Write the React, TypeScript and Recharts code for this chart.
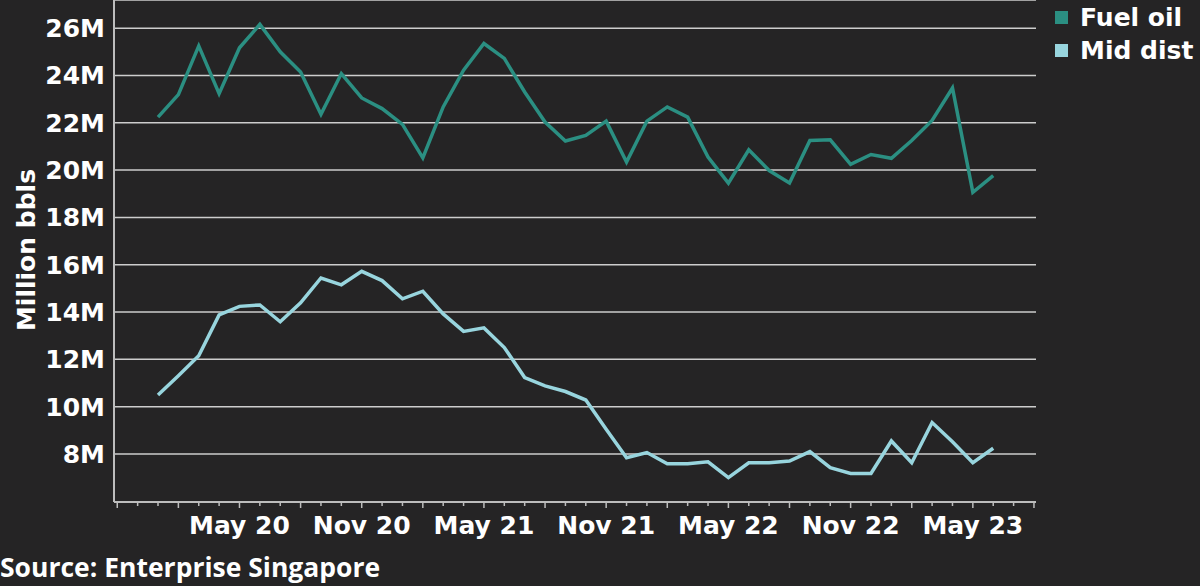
import { CartesianGrid, Line, LineChart, XAxis, YAxis } from "recharts";

const months = [
  "Jan 20", "Feb 20", "Mar 20", "Apr 20", "May 20", "Jun 20", "Jul 20", "Aug 20", "Sep 20", "Oct 20", "Nov 20", "Dec 20",
  "Jan 21", "Feb 21", "Mar 21", "Apr 21", "May 21", "Jun 21", "Jul 21", "Aug 21", "Sep 21", "Oct 21", "Nov 21", "Dec 21",
  "Jan 22", "Feb 22", "Mar 22", "Apr 22", "May 22", "Jun 22", "Jul 22", "Aug 22", "Sep 22", "Oct 22", "Nov 22", "Dec 22",
  "Jan 23", "Feb 23", "Mar 23", "Apr 23", "May 23", "Jun 23",
];

// million barrels
const fuelOil = [
  22.24, 23.19, 25.25, 23.23, 25.17, 26.16, 25.0, 24.15, 22.36, 24.08, 23.05, 22.6,
  21.93, 20.52, 22.67, 24.22, 25.35, 24.72, 23.3, 22.03, 21.23, 21.47, 22.07, 20.34,
  22.07, 22.67, 22.24, 20.55, 19.45, 20.86, 19.98, 19.45, 21.25, 21.28, 20.24, 20.66,
  20.5, 21.25, 22.1, 23.47, 19.06, 19.77,
];
const midDist = [
  10.49, 11.31, 12.15, 13.88, 14.24, 14.3, 13.59, 14.39, 15.44, 15.15, 15.72, 15.33,
  14.56, 14.88, 13.92, 13.18, 13.33, 12.5, 11.23, 10.88, 10.64, 10.28, 9.05, 7.84,
  8.06, 7.59, 7.59, 7.67, 7.0, 7.63, 7.63, 7.7, 8.1, 7.42, 7.18, 7.18,
  8.55, 7.63, 9.33, 8.52, 7.63, 8.24,
];

const xTickLabels = ["May 20", "Nov 20", "May 21", "Nov 21", "May 22", "Nov 22", "May 23"];
const yTicks = [8, 10, 12, 14, 16, 18, 20, 22, 24, 26];

const data = months.map((m, i) => ({ idx: i, month: m, fuel: fuelOil[i], mid: midDist[i] }));

// one tick per month, starting two months before the first point
const monthTicks = Array.from({ length: 46 }, (_, k) => k - 2);

const BG = "#252425";
const AXIS = "#bdbdbd";
const FUEL = "#2b8f82";
const MID = "#98d5de";
const MONT = "'DejaVu Sans', sans-serif";

const MonthTick = (props: any) => {
  const { x, y, payload } = props;
  const i = payload.value;
  const longTick = ((i % 3) + 3) % 3 === 1;
  const label = i >= 0 && i < months.length && xTickLabels.includes(months[i]) ? months[i] : null;
  return (
    <g>
      <line x1={x} x2={x} y1={y} y2={y + (longTick ? 6 : 4)} stroke={AXIS} strokeWidth={1.5} />
      {label && (
        <text x={x} y={y + 32} textAnchor="middle" fill="#ffffff" fontFamily={MONT} fontWeight="bold" fontSize={25}>
          {label}
        </text>
      )}
    </g>
  );
};

const legendItems = [
  { name: "Fuel oil", color: FUEL },
  { name: "Mid dist", color: MID },
];

export default function App() {
  return (
    <div style={{ position: "absolute", left: 0, top: 0, width: 1200, height: 586, background: BG }}>
      <LineChart width={1200} height={586} data={data} margin={{ top: 0, right: 164, left: 0, bottom: 44 }}>
        <CartesianGrid vertical={false} stroke="#cdcdcd" strokeWidth={1.5} />
        <XAxis
          dataKey="idx"
          type="number"
          domain={[-2.16, 43.1]}
          ticks={monthTicks}
          interval={0}
          height={40}
          axisLine={{ stroke: AXIS, strokeWidth: 2 }}
          tickLine={false}
          tickSize={0}
          tickMargin={0}
          tick={<MonthTick />}
        />
        <YAxis
          width={114}
          domain={[5.97, 27.19]}
          ticks={yTicks}
          interval={0}
          allowDataOverflow
          tickFormatter={(v) => `${v}M`}
          axisLine={{ stroke: AXIS, strokeWidth: 2 }}
          tickLine={false}
          tickSize={0}
          tickMargin={9}
          tick={{ fill: "#ffffff", fontFamily: MONT, fontWeight: "bold", fontSize: 25 }}
        />
        <Line type="linear" dataKey="fuel" name="Fuel oil" stroke={FUEL} strokeWidth={3.5} dot={false} isAnimationActive={false} />
        <Line type="linear" dataKey="mid" name="Mid dist" stroke={MID} strokeWidth={3.5} dot={false} isAnimationActive={false} />
      </LineChart>
      <div style={{ position: "absolute", top: 1, left: 1055 }}>
        {legendItems.map((it) => (
          <div key={it.name} style={{ display: "flex", alignItems: "center", height: 33 }}>
            <span style={{ width: 13, height: 13, background: it.color, display: "inline-block", marginRight: 12 }} />
            <span style={{ color: "#fff", fontFamily: MONT, fontWeight: "bold", fontSize: 25, lineHeight: "33px", whiteSpace: "nowrap" }}>
              {it.name}
            </span>
          </div>
        ))}
      </div>
      <svg width={1200} height={586} style={{ position: "absolute", left: 0, top: 0, pointerEvents: "none" }}>
        <text
          transform="translate(35,250) rotate(-90)"
          textAnchor="middle"
          fill="#ffffff"
          fontFamily={MONT}
          fontWeight="bold"
          fontSize={25}
        >
          Million bbls
        </text>
        <text x={0} y={577} fill="#ffffff" fontFamily="'Open Sans', sans-serif" fontWeight="bold" fontSize={26.5}>
          Source: Enterprise Singapore
        </text>
      </svg>
    </div>
  );
}
